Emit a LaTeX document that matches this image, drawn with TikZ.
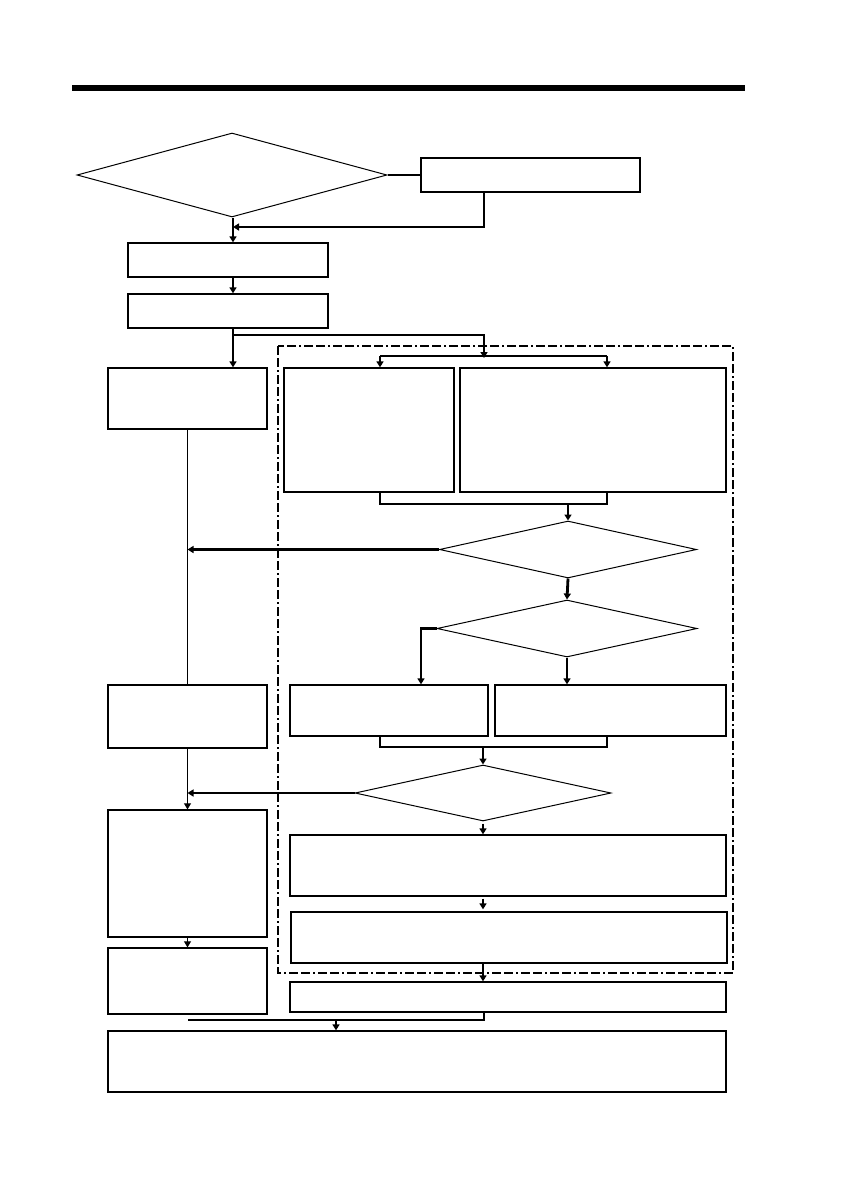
\documentclass[tikz,border=0pt]{standalone}
\usetikzlibrary{shapes.geometric,arrows.meta}
\begin{document}
\begin{tikzpicture}[x=1pt,y=-1pt,
    box/.style={draw=black, line width=1.3pt, inner sep=0pt, minimum width=#1},
    cond/.style={diamond, draw=black, line width=1pt, inner sep=0pt, aspect=1},
    bus/.style={draw=black, line width=2.8pt},
    arr/.style={bus, -{Triangle[length=6pt,width=7pt]}},
    thin/.style={draw=black, line width=1pt},
    tarr/.style={thin, -{Triangle[length=6pt,width=7pt]}}]
    \useasboundingbox (0,0) rectangle (841,1191);
    \draw[line width=6pt] (72,88) -- (745,88);
    %\draw[help lines] (0,0) grid[step=50] (841,1191);

    % top part
    \node[cond, minimum width=310, minimum height=84] (dtop) at (232,175) {};
    \node[box=219, minimum height=34] (retry) at (530.5,175) {};
    \node[box=200, minimum height=34] (s1) at (228,260) {};
    \node[box=200, minimum height=34] (s2) at (228,311) {};

    % left column
    \node[box=159, minimum height=61] (l1) at (187.5,398.5) {};
    \node[box=159, minimum height=63] (l2) at (187.5,716.5) {};
    \node[box=159, minimum height=127] (l3) at (187.5,873.5) {};
    \node[box=159, minimum height=66] (l4) at (187.5,981) {};

    % dash-dotted group
    \draw[line width=1.3pt, dash pattern=on 9pt off 3pt on 9pt off 3pt on 2pt off 3pt] (278,346) rectangle (733,973);
    \node[box=170, minimum height=124] (pa) at (369,430) {};
    \node[box=266, minimum height=124] (pb) at (593,430) {};
    \node[cond, minimum width=257, minimum height=57] (d3) at (568,549.5) {};
    \node[cond, minimum width=260, minimum height=57] (d4) at (567,628.5) {};
    \node[box=198, minimum height=51] (pc) at (389,710.5) {};
    \node[box=231, minimum height=51] (pd) at (610.5,710.5) {};
    \node[cond, minimum width=256, minimum height=56] (d5) at (483,793) {};
    \node[box=436, minimum height=61] (pe) at (508,865.5) {};
    \node[box=436, minimum height=51] (pf) at (509,937.5) {};
    \node[box=436, minimum height=30] (pg) at (508,997) {};
    \node[box=618, minimum height=61] (ph) at (417,1061.5) {};

    % bends
    \coordinate (j1) at (233,227);
    \coordinate (rt) at (484,192);
    \coordinate (fork) at (233,335);
    \coordinate (j2) at (484,356);
    \coordinate (busA) at (380,356);
    \coordinate (busB) at (607,356);
    \coordinate (botA) at (380,504);
    \coordinate (botB) at (607,504);
    \coordinate (xc) at (421,628.5);
    \coordinate (midA) at (380,747);
    \coordinate (midB) at (607,747);
    \coordinate (lowB) at (484,1020);
    \coordinate (lowM) at (336,1020);

    \draw[bus] (dtop.east) -- (retry.west);
    \draw[arr] (retry.south -| rt) |- (j1);
    \draw[arr] (dtop.south -| j1) -- (s1.north -| j1);
    \draw[arr] (s1.south -| j1) -- (s2.north -| j1);
    \draw[arr] (s2.south -| j1) -- (l1.north -| j1);
    \draw[arr] (fork) -| ([yshift=-2pt]j2);
    \draw[bus] (busA) -- (busB);
    \draw[arr] (busA) -- (busA |- pa.north);
    \draw[arr] (busB) -- (busB |- pb.north);
    \draw[bus] (pa.south -| botA) -- (botA) -- (botB) -- (pb.south -| botB);
    \draw[arr] (botA -| d3.north) -- (d3.north);
    \draw[arr] (d3.west) -- (d3.west -| l1.south);
    \draw[arr] (d3.south) -- (d4.north);
    \draw[arr] (d4.west) -| (xc |- pc.north);
    \draw[arr] (d4.south) -- (d4.south |- pd.north);
    \draw[bus] (pc.south -| midA) -- (midA) -- (midB) -- (pd.south -| midB);
    \draw[arr] (midA -| d5.north) -- (d5.north);
    \draw[arr] (d5.west) -- (d5.west -| l3.north);
    \draw[arr, shorten <=2pt] (d5.south) -- (d5.south |- pe.north);
    \draw[arr, shorten <=2pt, shorten >=2pt] (pe.south -| d5.south) -- (pf.north -| d5.south);
    \draw[arr] (pf.south -| d5.south) -- (pg.north -| d5.south);
    \draw[bus] (pg.south -| lowB) -- (lowB) -- (lowB -| l4.south);
    \draw[arr] (lowM) -- (lowM |- ph.north);

    \draw[thin] (l1.south) -- (l2.north);
    \draw[tarr] (l2.south) -- (l3.north);
    \draw[tarr] (l3.south) -- (l4.north);
\end{tikzpicture}
\end{document}
